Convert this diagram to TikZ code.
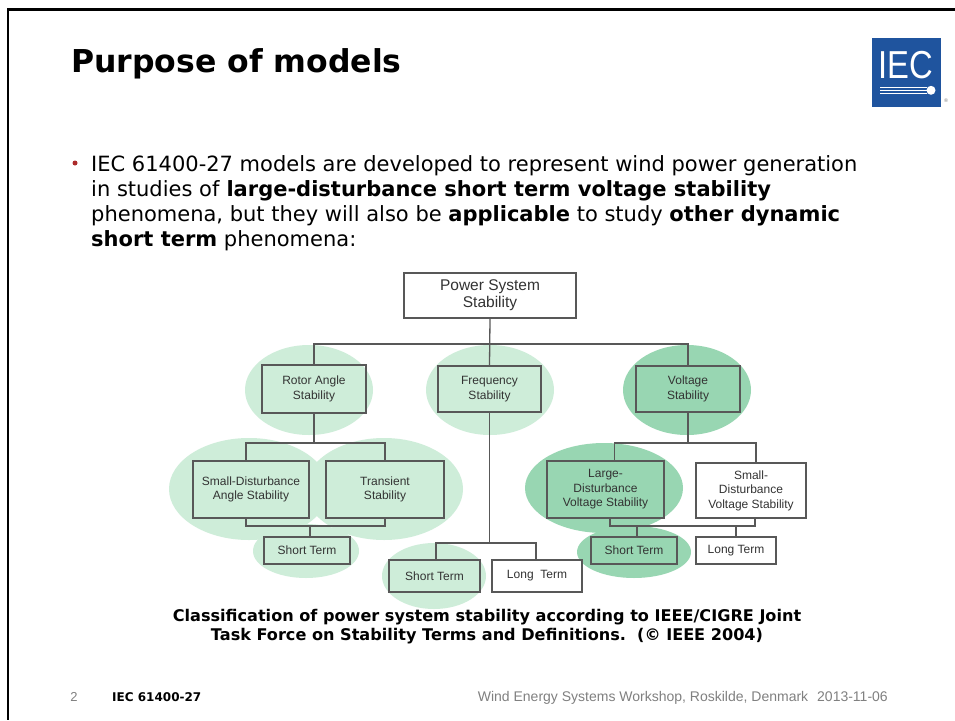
\documentclass[tikz,border=0pt]{standalone}
\usepackage{fontspec}
\usepackage{graphicx}
\setmainfont{DejaVu Sans}
\newfontfamily\diagfont{Liberation Sans}
\usetikzlibrary{positioning}

\definecolor{iecblue}{RGB}{31,84,158}
\definecolor{palegreen}{RGB}{206,237,217}
\definecolor{deepgreen}{RGB}{152,214,178}
\definecolor{boxgray}{RGB}{88,88,88}
\definecolor{bulletred}{RGB}{172,42,42}

\begin{document}
\begin{tikzpicture}[
        x=1pt, y=-1pt,
        box/.style={
            draw=boxgray, line width=1.3pt, align=center,
            font=\diagfont\fontsize{12}{14.5}\selectfont,
            text=black!80, inner sep=0pt
        },
        link/.style={draw=boxgray, line width=1.3pt},
        blob/.style={fill=palegreen},
        hotblob/.style={fill=deepgreen}
      ]
        \useasboundingbox[fill=white] (0,0) rectangle (955,720);
        % slide frame
        \draw[line width=3pt] (8,9.5) -- (955,9.5);
        \draw[line width=2pt] (8,8) -- (8,720);

        % heading and bullet text
        \node[anchor=base west, inner sep=0, font=\bfseries\fontsize{31.5}{36}\selectfont] (title) at (71,72) {Purpose of models};
        \node[circle, fill=bulletred, inner sep=0, minimum size=5pt] (dot) at (75,163) {};
        \node[anchor=base west, inner sep=0, align=left, font=\fontsize{21}{25}\selectfont] (body) at (91,246)
          {IEC 61400-27 models are developed to represent wind power generation\\
           in studies of \textbf{large-disturbance short term voltage stability}\\
           phenomena, but they will also be \textbf{applicable} to study \textbf{other dynamic}\\
           \textbf{short term} phenomena:};

        % IEC logo
        \node[fill=iecblue, minimum width=69pt, minimum height=69pt, inner sep=0] (logo) at (906.5,72.5) {};
        \node[text=white, inner sep=0, anchor=base, font=\diagfont\fontsize{39}{39}\selectfont] (logotext) at (906,78) {\scalebox{0.84}[1]{IEC}};
        \foreach \ly in {87,90.3,93.6}
          \draw[white, line width=0.8pt] (880,\ly) -- (927,\ly);
        \node[circle, fill=white, inner sep=0, minimum size=9pt] (logodot) at (931,90.3) {};
        \node[text=gray, inner sep=0, font=\fontsize{5}{5}\selectfont] (logoreg) at (946,101) {\textregistered};

        % shaded areas
        \fill[blob] (309,390) ellipse [x radius=64pt, y radius=45pt];
        \fill[blob] (490,390) ellipse [x radius=64pt, y radius=45pt];
        \fill[blob] (249,489) ellipse [x radius=80pt, y radius=51pt];
        \fill[blob] (384,489) ellipse [x radius=79pt, y radius=51pt];
        \fill[blob] (306,551) ellipse [x radius=53pt, y radius=27pt];
        \fill[blob] (434,576) ellipse [x radius=52pt, y radius=33pt];
        \fill[hotblob] (687,390) ellipse [x radius=64pt, y radius=45pt];
        \fill[hotblob] (604,488) ellipse [x radius=79pt, y radius=45pt];
        \fill[hotblob] (634,552) ellipse [x radius=57pt, y radius=26pt];

        % classification boxes
        \node[box, minimum width=172pt, minimum height=45pt, font=\diagfont\fontsize{15.5}{17}\selectfont] (pss) at (490,295.5) {Power System\\Stability};
        \node[box, minimum width=104pt, minimum height=48pt] (ras) at (314,389) {Rotor Angle\\Stability};
        \node[box, minimum width=103pt, minimum height=46pt] (fs) at (489.5,389) {Frequency\\Stability};
        \node[box, minimum width=104pt, minimum height=46pt] (vs) at (688,389) {Voltage\\Stability};
        \node[box, minimum width=116pt, minimum height=57pt] (sdas) at (251,489.5) {Small-Disturbance\\Angle Stability};
        \node[box, minimum width=118pt, minimum height=57pt] (ts) at (385,489.5) {Transient\\Stability};
        \node[box, minimum width=86pt, minimum height=27pt] (st1) at (307,550.5) {Short Term};
        \node[box, minimum width=91pt, minimum height=32pt] (st2) at (434.5,576) {Short Term};
        \node[box, minimum width=90pt, minimum height=32pt] (lt2) at (537,576) {Long\ \ Term};
        \node[box, minimum width=117pt, minimum height=57pt] (ldvs) at (605.5,489.5) {Large-\\Disturbance\\Voltage Stability};
        \node[box, minimum width=110pt, minimum height=55pt] (sdvs) at (751,490.5) {Small-\\Disturbance\\Voltage Stability};
        \node[box, minimum width=86pt, minimum height=27pt] (st3) at (634,550.5) {Short Term};
        \node[box, minimum width=80pt, minimum height=27pt] (lt3) at (736,550.5) {Long Term};

        % connectors
        \coordinate (bus0) at (490,344);
        \coordinate (bus1) at (314,443);
        \coordinate (bus2) at (0,526);
        \coordinate (bus3) at (489.5,543);
        \coordinate (bus4) at (688,443);
        \draw[link] (pss.south) -- (fs.north);
        \draw[link] (ras.north) |- (bus0) -| (vs.north);
        \draw[link] (ras.south) -- (bus1);
        \draw[link] ([xshift=-5pt]sdas.north) |- (bus1) -| (ts.north);
        \draw[link] ([xshift=-5pt]sdas.south) |- (ts.south |- bus2) -- (ts.south);
        \draw[link] ([xshift=3pt]st1.north) -- ([xshift=3pt]st1.north |- bus2);
        \draw[link] (fs.south) -- (bus3);
        \draw[link] ([xshift=1.5pt]st2.north) |- (bus3) -| ([xshift=-1pt]lt2.north);
        \draw[link] (vs.south) -- (bus4);
        \draw[link] ([xshift=9pt]ldvs.north) |- (bus4) -| ([xshift=5pt]sdvs.north);
        \draw[link] ([xshift=4.5pt]ldvs.south) |- ([xshift=4pt]sdvs.south |- bus2) -- ([xshift=4pt]sdvs.south);
        \draw[link] ([xshift=3pt]st3.north) -- ([xshift=3pt]st3.north |- bus2);
        \draw[link] (lt3.north) -- (lt3.north |- bus2);

        % caption and footer
        \node[align=center, inner sep=0, font=\bfseries\fontsize{16.1}{19}\selectfont] (caption) at (487,627)
          {Classification of power system stability according to IEEE/CIGRE Joint\\
           Task Force on Stability Terms and Definitions.\ \ (\textcopyright{} IEEE 2004)};
        \node[anchor=base, inner sep=0, text=gray, font=\diagfont\fontsize{13}{14}\selectfont] (pageno) at (74,701) {2};
        \node[anchor=base west, inner sep=0, font=\bfseries\fontsize{12}{14}\selectfont] (foottag) at (112,701) {IEC 61400-27};
        \node[anchor=base east, inner sep=0, text=gray, font=\diagfont\fontsize{14}{16}\selectfont] (footinfo) at (888,701)
          {Wind Energy Systems Workshop, Roskilde, Denmark\hspace{9pt}2013-11-06};
      \end{tikzpicture}
\end{document}
